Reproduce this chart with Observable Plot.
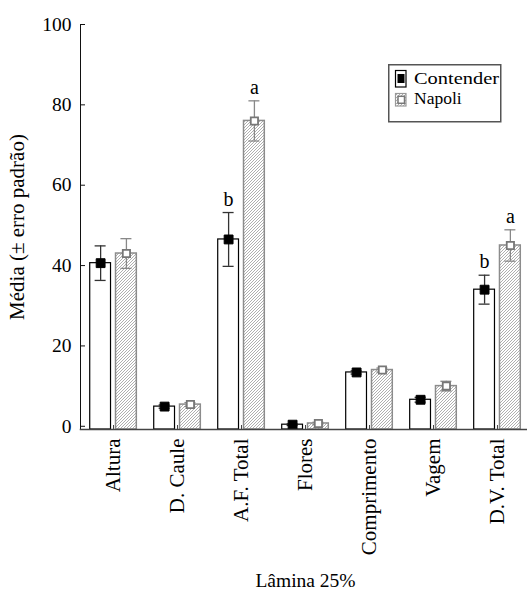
<!DOCTYPE html>
<html><head><meta charset="utf-8">
<script src="https://cdn.jsdelivr.net/npm/d3@7"></script>
<script src="https://cdn.jsdelivr.net/npm/@observablehq/plot@0.6"></script>
<style>
body{margin:0;background:#fff;}
#wrap{position:relative;width:527px;height:592px;overflow:hidden;font-family:"Liberation Serif","Times New Roman",serif;}
#legend{position:absolute;left:388px;top:64px;}
</style></head><body><div id="wrap"></div>
<script>
// ---- data ----
const categories = ["Altura", "D. Caule", "A.F. Total", "Flores", "Comprimento", "Vagem", "D.V. Total"];
const series = ["Contender", "Napoli"];
const contenderMean = [40.6, 4.9, 46.5, 0.4, 13.4, 6.6, 34.0];
const contenderSE   = [4.3, 0.4, 6.7, 0.2, 0.4, 0.6, 3.6];
const napoliMean    = [43.0, 5.4, 76.0, 0.7, 14.0, 10.0, 45.0];
const napoliSE      = [3.7, 0.5, 5.0, 0.3, 0.5, 1.2, 3.9];
const contenderLetters = ["", "", "b", "", "", "", "b"];
const napoliLetters    = ["", "", "a", "", "", "", "a"];
const yTicks = [0, 20, 40, 60, 80, 100];
const yBase = -0.8;
const yLabel = "Média (± erro padrão)";
const xLabel = "Lâmina 25%";

const contender = categories.map((c, i) => ({category: c, series: series[0], mean: contenderMean[i], se: contenderSE[i], letter: contenderLetters[i]}));
const napoli = categories.map((c, i) => ({category: c, series: series[1], mean: napoliMean[i], se: napoliSE[i], letter: napoliLetters[i]}));

// ---- styling constants (pixels) ----
const BAND = 64, OUT = 8.7, BAR_W = 20.8;
const IN = BAND - OUT - BAR_W;
const off = BAR_W / 2 + 2.5;
const cap = 5.5;
const font = "'Liberation Serif', 'Times New Roman', serif";

const chart = Plot.plot({
  width: 527, height: 592,
  marginLeft: 80, marginRight: -3, marginTop: 24, marginBottom: 163,
  style: {fontFamily: font, fontSize: "19.5px", color: "#000", background: "#fff"},
  x: {domain: categories, paddingInner: 0, paddingOuter: 0.016, round: false, label: null},
  y: {domain: [yBase, 100], label: null},
  marks: [
    Plot.barY(contender, {x: "category", y1: yBase, y2: "mean", fill: "#fff", stroke: "#000", strokeWidth: 1.2, insetLeft: OUT, insetRight: IN}),
    Plot.barY(napoli, {x: "category", y1: yBase, y2: "mean", fill: "url(#hatch)", stroke: "#8c8c8c", strokeWidth: 1.5, insetLeft: IN, insetRight: OUT}),
    Plot.ruleX(contender, {x: "category", y1: d => d.mean - d.se, y2: d => d.mean + d.se, dx: -off, stroke: "#333", strokeWidth: 1.3}),
    Plot.tickY(contender, {x: "category", y: d => d.mean + d.se, insetLeft: BAND / 2 - off - cap, insetRight: BAND / 2 + off - cap, stroke: "#333", strokeWidth: 1.3}),
    Plot.tickY(contender, {x: "category", y: d => d.mean - d.se, insetLeft: BAND / 2 - off - cap, insetRight: BAND / 2 + off - cap, stroke: "#333", strokeWidth: 1.3}),
    Plot.ruleX(napoli, {x: "category", y1: d => d.mean - d.se, y2: d => d.mean + d.se, dx: off, stroke: "#888", strokeWidth: 1.3}),
    Plot.tickY(napoli, {x: "category", y: d => d.mean + d.se, insetLeft: BAND / 2 + off - cap, insetRight: BAND / 2 - off - cap, stroke: "#888", strokeWidth: 1.3}),
    Plot.tickY(napoli, {x: "category", y: d => d.mean - d.se, insetLeft: BAND / 2 + off - cap, insetRight: BAND / 2 - off - cap, stroke: "#888", strokeWidth: 1.3}),
    Plot.dot(contender, {x: "category", y: "mean", dx: -off, symbol: "square", r: 5, fill: "#000", stroke: "#000", strokeWidth: 1}),
    Plot.dot(napoli, {x: "category", y: "mean", dx: off, symbol: "square", r: 4.1, fill: "#fff", stroke: "#777", strokeWidth: 1.8}),
    Plot.text(contender, {x: "category", y: d => d.mean + d.se, text: "letter", dx: -off, dy: -7, lineAnchor: "bottom", fontSize: 20}),
    Plot.text(napoli, {x: "category", y: d => d.mean + d.se, text: "letter", dx: off, dy: -7, lineAnchor: "bottom", fontSize: 20}),
    Plot.frame({anchor: "left", stroke: "#111", strokeWidth: 1}),
    Plot.frame({anchor: "bottom", stroke: "#444", strokeWidth: 1.5}),
    Plot.axisY({ticks: yTicks, tickSize: -5, tickFormat: () => "", stroke: "#111"}),
    Plot.axisY({ticks: yTicks, tickSize: 0, tickPadding: 9, fontSize: 19.5, fill: "#000"}),
    Plot.axisX({tickSize: -4, tickFormat: () => "", stroke: "#444"}),
    Plot.axisX({tickSize: 0, tickPadding: 9, tickRotate: -90, fontSize: 21, fill: "#000"}),
    Plot.text([yLabel], {text: d => d, frameAnchor: "left", rotate: -90, dx: -63, textAnchor: "middle", lineAnchor: "middle", fontSize: 21}),
    Plot.text([xLabel], {text: d => d, frameAnchor: "bottom", dy: 157, textAnchor: "middle", lineAnchor: "bottom", fontSize: 19.5})
  ]
});

d3.select(chart).insert("defs", ":first-child").html(
  '<pattern id="hatch" patternUnits="userSpaceOnUse" width="3" height="3">' +
  '<rect width="3" height="3" fill="#fff"/>' +
  '<path d="M-0.75,0.75l1.5,-1.5M0,3l3,-3M2.25,3.75l1.5,-1.5" stroke="#9a9a9a" stroke-width="0.8"/></pattern>'
);

const wrap = document.getElementById("wrap");
wrap.appendChild(chart);

const legend = document.createElement("div");
legend.id = "legend";
legend.innerHTML = `
<svg width="114" height="59" xmlns="http://www.w3.org/2000/svg" style="font-family:${font};font-size:17.5px">
  <defs><pattern id="hatchL" patternUnits="userSpaceOnUse" width="3" height="3">
    <rect width="3" height="3" fill="#fff"/>
    <path d="M-0.75,0.75l1.5,-1.5M0,3l3,-3M2.25,3.75l1.5,-1.5" stroke="#9a9a9a" stroke-width="0.8"/></pattern></defs>
  <rect x="0.75" y="0.75" width="112" height="57" fill="#fff" stroke="#555" stroke-width="1.5"/>
  <rect x="7.5" y="6.5" width="10.5" height="16.5" fill="#fff" stroke="#000" stroke-width="1.2"/>
  <rect x="9.5" y="10" width="7" height="9" fill="#000"/>
  <rect x="7.5" y="29.5" width="10.5" height="12.5" fill="url(#hatchL)" stroke="#999" stroke-width="1.2"/>
  <rect x="10" y="32.3" width="6.5" height="7" fill="#fff" stroke="#777" stroke-width="1.5"/>
  <text x="26" y="19.5" textLength="85" lengthAdjust="spacingAndGlyphs">${series[0]}</text>
  <text x="26" y="39.5">${series[1]}</text>
</svg>`;
wrap.appendChild(legend);
</script>
</body></html>
